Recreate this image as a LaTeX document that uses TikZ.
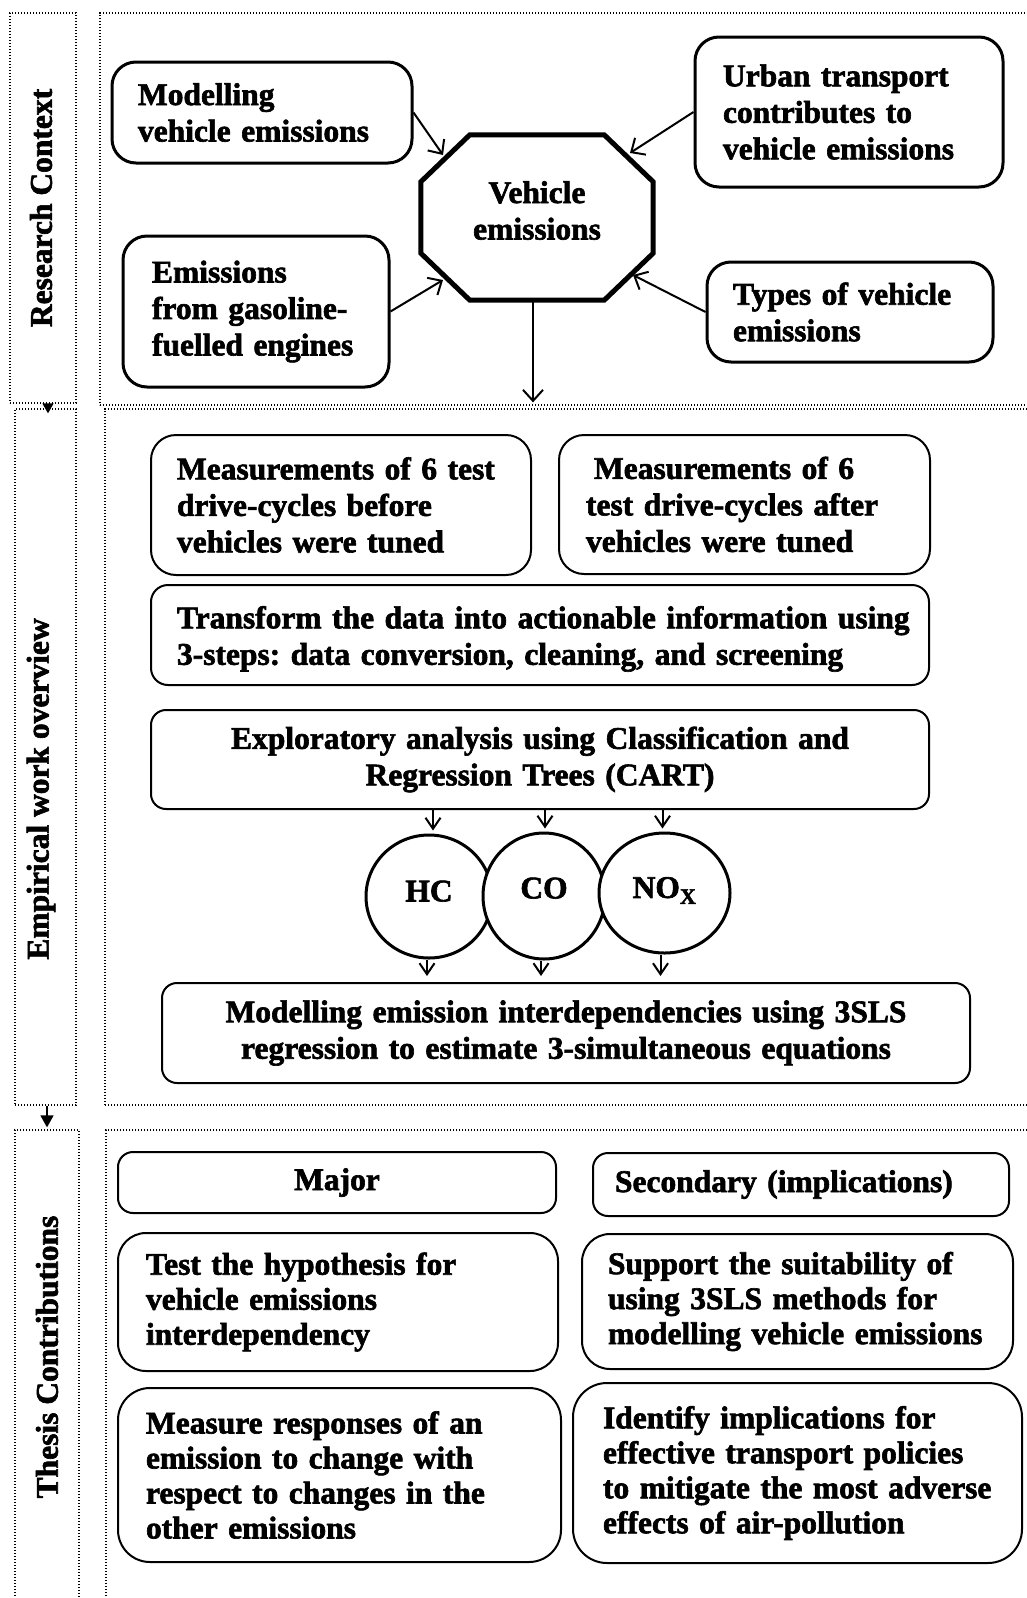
\documentclass[tikz,border=0pt]{standalone}
\usepackage{fontspec}
\setmainfont{Liberation Serif}[BoldFeatures={FakeBold=2}]
\usetikzlibrary{arrows.meta,shapes.geometric}
\frenchspacing
\begin{document}
\begin{tikzpicture}[x=1pt,y=-1pt,
  font=\fontsize{31.5}{36.5}\selectfont\bfseries\frenchspacing,
  dotbox/.style={draw, line width=1.3pt, dash pattern=on 1.3pt off 1.7pt, inner sep=0pt},
  rbox/.style={draw, line width=2pt, rounded corners=20pt, align=left, inner ysep=0pt},
  rcbox/.style={rbox, line width=3pt, rounded corners=24pt},
  cbox/.style={rbox, align=center, rounded corners=15pt},
  tbox/.style={rbox, font=\fontsize{31.5}{35}\selectfont\bfseries\frenchspacing},
  arr/.style={line width=2pt, -{Straight Barb[length=11pt,width=20pt,line width=2pt]}},
  sarr/.style={line width=2pt, -{Straight Barb[length=11pt,width=15pt,line width=2pt]}},
  tri/.style={line width=1.5pt, -{Triangle[length=10pt,width=11pt]}},
  circ/.style={draw, ellipse, line width=3pt, fill=white, inner sep=0pt},
  lab/.style={rotate=90, inner sep=0pt}
]
\fill[white] (0,0) rectangle (1027,1598);
\useasboundingbox (0,0) rectangle (1027,1598);

% ---- left column dotted boxes and labels
\node[dotbox, minimum width=66pt, minimum height=390pt] (lc1) at (43,208) {};
\node[dotbox, minimum width=61pt, minimum height=696pt] (lc2) at (45.5,757) {};
\node[dotbox, minimum width=64pt, minimum height=472pt] (lc3) at (47,1366) {};
\node[lab] (l1) at (41,208) {Research Context};
\node[lab] (l2) at (41,789) {Empirical work overview};
\node[lab] (l3) at (47,1357) {Thesis Contributions};
\draw[tri] ([xshift=5pt]lc1.south) -- ([xshift=5pt,yshift=-5pt]lc1.south |- lc2.north);
\draw[tri, -{Triangle[length=12pt,width=13pt]}] ([xshift=1.5pt]lc2.south) -- ([yshift=2pt]lc3.north);

% ---- main dotted boxes
\node[dotbox, minimum width=931pt, minimum height=392pt] (mc1) at (565.5,209) {};
\node[dotbox, minimum width=926pt, minimum height=696pt] (mc2) at (568,757) {};
\node[dotbox, minimum width=925pt, minimum height=472pt] (mc3) at (568.5,1366) {};

% ---- research context
\node[rcbox, minimum width=300pt, minimum height=101pt, inner xsep=26pt, text width=248pt] (mod) at (262,112.5)
  {Modelling\\vehicle emissions};
\node[rcbox, minimum width=266pt, minimum height=151pt, inner xsep=29pt, text width=208pt] (gas) at (256,311.5)
  {Emissions\\from gasoline-\\fuelled engines};
\node[rcbox, minimum width=308pt, minimum height=150pt, inner xsep=28pt, text width=252pt] (urb) at (849,112)
  {Urban transport\\contributes to\\vehicle emissions};
\node[rcbox, minimum width=286pt, minimum height=100pt, inner xsep=26pt, text width=234pt] (typ) at (850,312)
  {Types of vehicle\\emissions};

\node[minimum width=232pt, minimum height=165pt, inner sep=0pt,
      label={[yshift=7pt, align=center]center:Vehicle\\emissions}] (veh) at (537,217.5) {};
\draw[line width=5pt, line join=miter]
  ([xshift=49pt]veh.north west) -- ([xshift=-49pt]veh.north east) -- ([yshift=-47pt]veh.north east)
  -- ([yshift=47pt]veh.south east) -- ([xshift=-49pt]veh.south east) -- ([xshift=49pt]veh.south west)
  -- ([yshift=47pt]veh.south west) -- ([yshift=-47pt]veh.north west) -- cycle;
\coordinate (tNW) at (443,155);
\coordinate (tNE) at (630,153);
\coordinate (tSW) at (443,280);
\coordinate (tSE) at (633,275);
\draw[arr] (mod.east) -- (tNW);
\draw[arr] (urb.west) -- (tNE);
\draw[arr] (gas.east) -- (tSW);
\draw[arr] (typ.west) -- (tSE);
\draw[arr, shorten >=6pt] ([xshift=-4pt]veh.south) -- ([xshift=-4pt]veh.south |- mc2.north);

% ---- empirical work
\node[rbox, rounded corners=25pt, minimum width=380pt, minimum height=140pt, inner xsep=26pt, text width=328pt] (bef) at (341,505)
  {Measurements of 6 test\\drive-cycles before\\vehicles were tuned};
\node[rbox, rounded corners=25pt, minimum width=371pt, minimum height=139pt, inner xsep=27pt, text width=317pt] (aft) at (744.5,504.5)
  {\hspace*{8pt}Measurements of 6\\test drive-cycles after\\vehicles were tuned};
\node[rbox, rounded corners=17pt, minimum width=778pt, minimum height=100pt, inner xsep=26pt, text width=726pt] (trf) at (540,635)
  {\rule{0pt}{30pt}\mbox{Transform the data into actionable information using}\\\mbox{3-steps: data conversion, cleaning, and screening}};
\node[cbox, minimum width=778pt, minimum height=99pt, inner xsep=19pt, text width=740pt] (exp) at (540,759.5)
  {Exploratory analysis using Classification and\\Regression Trees (CART)};

\node[circ, minimum width=126pt, minimum height=123pt] (hc) at (429,896.5) {\raisebox{11pt}{HC}};
\node[circ, minimum width=122pt, minimum height=126pt] (co) at (544,896) {\raisebox{16pt}{CO}};
\node[circ, minimum width=131pt, minimum height=120pt] (nox) at (664.5,893) {\raisebox{11pt}{NO\textsubscript{X}}};

\node[cbox, minimum width=808pt, minimum height=100pt, inner xsep=14pt, text width=780pt] (mtl) at (566,1033)
  {Modelling emission interdependencies using 3SLS\\regression to estimate 3-simultaneous equations};

\draw[sarr, shorten >=3pt] ([xshift=4pt]hc.north |- exp.south) -- ([xshift=4pt]hc.north);
\draw[sarr, shorten >=3pt] ([xshift=1pt]co.north |- exp.south) -- ([xshift=1pt]co.north);
\draw[sarr, shorten >=3pt] ([xshift=-2pt]nox.north |- exp.south) -- ([xshift=-2pt]nox.north);
\draw[sarr, shorten >=6pt] ([xshift=-2pt]hc.south) -- ([xshift=-2pt]hc.south |- mtl.north);
\draw[sarr, shorten >=6pt] ([xshift=-3pt]co.south) -- ([xshift=-3pt]co.south |- mtl.north);
\draw[sarr, shorten >=6pt] ([xshift=-4pt]nox.south) -- ([xshift=-4pt]nox.south |- mtl.north);

% ---- thesis contributions
\node[tbox, align=center, rounded corners=15pt, minimum width=438pt, minimum height=61pt, text width=400pt, inner xsep=19pt] (maj) at (337,1182.5) {Major};
\node[tbox, rounded corners=15pt, minimum width=416pt, minimum height=63pt, inner xsep=22pt, text width=372pt] (sec) at (801,1184.5) {Secondary (implications)};
\node[tbox, rounded corners=28pt, minimum width=440pt, minimum height=138pt, inner xsep=28pt, text width=384pt] (tst) at (338,1302)
  {Test the hypothesis for\\vehicle emissions\\interdependency};
\node[tbox, rounded corners=28pt, minimum width=431pt, minimum height=135pt, inner xsep=26pt, text width=379pt] (sup) at (797.5,1301.5)
  {Support the suitability of\\using 3SLS methods for\\modelling vehicle emissions};
\node[tbox, rounded corners=32pt, minimum width=443pt, minimum height=174pt, inner xsep=28pt, text width=387pt] (mea) at (339.5,1475)
  {Measure responses of an\\emission to change with\\respect to changes in the\\other emissions};
\node[tbox, rounded corners=34pt, minimum width=449pt, minimum height=180pt, inner xsep=30pt, text width=389pt] (ide) at (797.5,1473)
  {Identify implications for\\effective transport policies\\to mitigate the most adverse\\effects of air-pollution};
\end{tikzpicture}
\end{document}
